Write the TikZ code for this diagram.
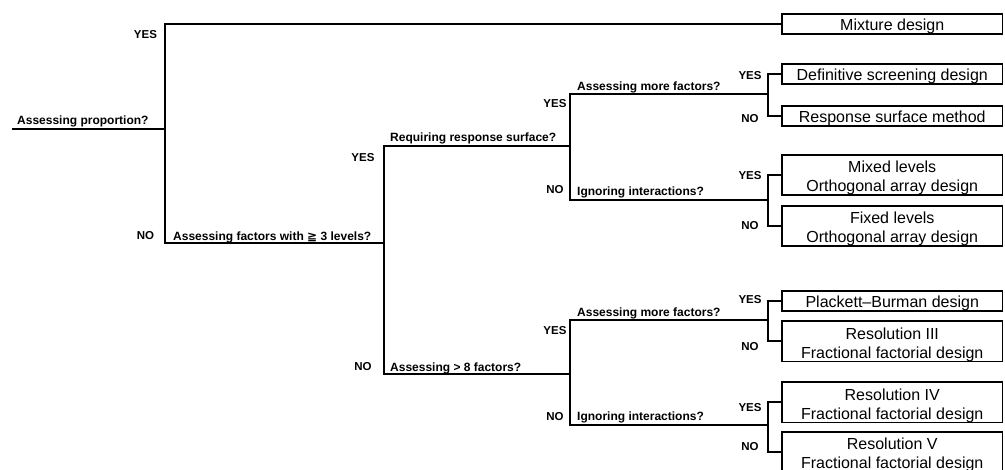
\documentclass[tikz,border=0pt]{standalone}
\usepackage{fontspec}
\setmainfont{Liberation Sans}
\newfontfamily\symfont{DejaVu Sans}
\newcommand{\onestrut}{\rule[-3.7pt]{0pt}{20pt}}
\newcommand{\topstrut}{\rule{0pt}{17.8pt}}
\newcommand{\botstrut}{\rule[-3.4pt]{0pt}{3.4pt}}
\begin{document}
\begin{tikzpicture}[x=1pt,y=-1pt,
  conn/.style={line width=1.8pt,line join=miter},
  qlabel/.style={anchor=base west,inner sep=0pt,font=\fontsize{12}{14}\selectfont\bfseries},
  yn/.style={anchor=base,inner sep=0pt,font=\fontsize{11.5}{13}\selectfont\bfseries},
  outcome/.style={draw,line width=1.6pt,anchor=north,inner sep=0pt,minimum width=220.5pt,
    align=center,font=\fontsize{16}{19}\selectfont}
]
\useasboundingbox (0,0) rectangle (1005,470);

% outcome boxes
\node[outcome] (mix)   at (892.25,13)    {\onestrut Mixture design};
\node[outcome] (def)   at (892.25,63)    {\onestrut Definitive screening design};
\node[outcome] (rsm)   at (892.25,105.5) {\onestrut Response surface method};
\node[outcome] (mixed) at (892.25,154)   {\topstrut Mixed levels\\Orthogonal array design\botstrut};
\node[outcome] (fixed) at (892.25,205)   {\topstrut Fixed levels\\Orthogonal array design\botstrut};
\node[outcome] (pb)    at (892.25,290)   {\onestrut Plackett--Burman design};
\node[outcome] (r3)    at (892.25,320.5) {\topstrut Resolution III\\Fractional factorial design\botstrut};
\node[outcome] (r4)    at (892.25,381.5) {\topstrut Resolution IV\\Fractional factorial design\botstrut};
\node[outcome] (r5)    at (892.25,431)   {\topstrut Resolution V\\Fractional factorial design\botstrut};

% junction coordinates
\coordinate (start) at (12,129);
\coordinate (d1) at (165,129);
\coordinate (n1) at (165,243);
\coordinate (d2) at (384,243);
\coordinate (y2) at (384,146);
\coordinate (n2) at (384,374);
\coordinate (d3a) at (570,146);
\coordinate (y3a) at (570,94);
\coordinate (n3a) at (570,200);
\coordinate (d3b) at (570,374);
\coordinate (y3b) at (570,320);
\coordinate (n3b) at (570,425);
\coordinate (d4a) at (768,94);
\coordinate (d4b) at (768,200);
\coordinate (d4c) at (768,320);
\coordinate (d4d) at (768,425);

% connectors
\draw[conn] (start) -- (d1);
\draw[conn] (mix.west) -| (n1) -- (d2);
\draw[conn] (d3a) -- (y2) -- (n2) -- (d3b);
\draw[conn] (d4a) -- (y3a) -- (n3a) -- (d4b);
\draw[conn] (d4c) -- (y3b) -- (n3b) -- (d4d);
\draw[conn] (def.west) -| (d4a) |- (rsm.west);
\draw[conn] (mixed.west) -| (d4b) |- (fixed.west);
\draw[conn] (pb.west) -| (d4c) |- (r3.west);
\draw[conn] (r4.west) -| (d4d) |- (r5.west);

% question labels
\node[qlabel] (q1) at (17,125) {Assessing proportion?};
\node[qlabel] (q2) at (173,240.5) {Assessing factors with {\symfont\bfseries ≧} 3 levels?};
\node[qlabel] (q3) at (390,141.5) {Requiring response surface?};
\node[qlabel] (q4) at (577,90.7) {Assessing more factors?};
\node[qlabel] (q5) at (577,196) {Ignoring interactions?};
\node[qlabel] (q6) at (390,371.5) {Assessing > 8 factors?};
\node[qlabel] (q7) at (577,316.7) {Assessing more factors?};
\node[qlabel] (q8) at (577,420.7) {Ignoring interactions?};

% YES / NO labels
\node[yn] (y1l) at (145.5,39) {YES};
\node[yn] (n1l) at (145.5,240) {NO};
\node[yn] (y2l) at (363,161.7) {YES};
\node[yn] (n2l) at (363,370.7) {NO};
\node[yn] (y3l) at (555,108) {YES};
\node[yn] (n3l) at (555,194) {NO};
\node[yn] (y4l) at (555,335) {YES};
\node[yn] (n4l) at (555,420.7) {NO};
\node[yn] (y5l) at (750,80) {YES};
\node[yn] (n5l) at (750,122.7) {NO};
\node[yn] (y6l) at (750,179.5) {YES};
\node[yn] (n6l) at (750,230) {NO};
\node[yn] (y7l) at (750,303.3) {YES};
\node[yn] (n7l) at (750,350.7) {NO};
\node[yn] (y8l) at (750,411.7) {YES};
\node[yn] (n8l) at (750,451) {NO};
\end{tikzpicture}
\end{document}
